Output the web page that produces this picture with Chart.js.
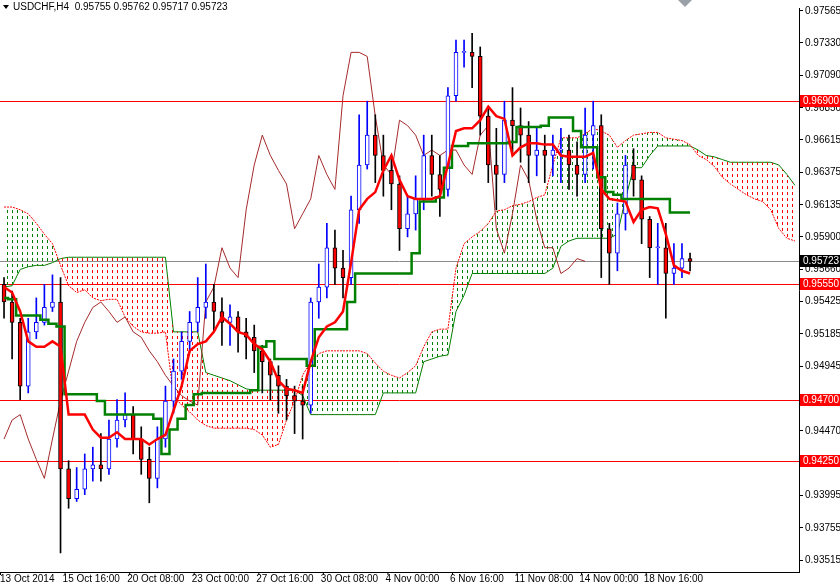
<!DOCTYPE html>
<html><head><meta charset="utf-8">
<script src="https://cdn.jsdelivr.net/npm/chart.js@4"></script>
<style>html,body{margin:0;padding:0;background:#fff;overflow:hidden}</style>
</head><body><canvas id="c" width="840" height="585" style="width:840px;height:585px;display:block"></canvas>
<script>
const symbolTitle = "USDCHF,H4  0.95755 0.95762 0.95717 0.95723";
const firstOpen = 0.9555;
const closes = [.9542,.9527,.9480,.9520,.9527,.9538,.9542,.9419,.9397,.9404,
.9419,.9422,.9419,.9441,.9455,.9459,.9441,.9426,.9412,.9441,
.9469,.9491,.9513,.9527,.9538,.9542,.9535,.9527,.9531,.9520,
.9516,.9506,.9498,.9488,.9480,.9473,.9469,.9466,.9542,.9553,
.9582,.9567,.9560,.9610,.9643,.9665,.9650,.9639,.9629,.9596,
.9607,.9618,.9650,.9636,.9625,.9694,.9726,.9726,.9723,.9679,
.9643,.9636,.9676,.9672,.9665,.9650,.9654,.9650,.9654,.9654,
.9643,.9636,.9665,.9672,.9596,.9578,.9607,.9643,.9632,.9603,
.9582,.9582,.9563,.9567,.9574,.9572];
const highs = [.9560,.9550,.9530,.9530,.9545,.9555,.9562,.9560,.9425,.9420,
.9430,.9435,.9445,.9455,.9470,.9475,.9465,.9450,.9435,.9450,
.9480,.9500,.9520,.9535,.9560,.9570,.9555,.9545,.9540,.9535,
.9530,.9525,.9510,.9500,.9495,.9485,.9480,.9480,.9545,.9570,
.9600,.9595,.9580,.9620,.9680,.9690,.9680,.9665,.9650,.9635,
.9620,.9635,.9665,.9665,.9650,.9700,.9735,.9735,.9740,.9730,
.9685,.9670,.9690,.9700,.9685,.9675,.9670,.9665,.9665,.9670,
.9665,.9660,.9685,.9690,.9680,.9600,.9615,.9650,.9655,.9635,
.9605,.9600,.9600,.9585,.9585,.9578];
const lows = [.9530,.9500,.9470,.9475,.9515,.9525,.9535,.9357,.9390,.9395,
.9400,.9410,.9410,.9415,.9435,.9450,.9430,.9415,.9394,.9405,
.9435,.9460,.9485,.9505,.9520,.9530,.9520,.9510,.9510,.9505,
.9500,.9490,.9475,.9470,.9460,.9455,.9445,.9441,.9460,.9530,
.9545,.9555,.9545,.9555,.9600,.9640,.9630,.9620,.9610,.9580,
.9590,.9595,.9610,.9620,.9605,.9620,.9690,.9715,.9700,.9665,
.9630,.9610,.9630,.9650,.9645,.9630,.9635,.9630,.9635,.9630,
.9625,.9620,.9630,.9640,.9560,.9555,.9565,.9595,.9620,.9585,
.9560,.9555,.9530,.9555,.9560,.9565];
const tenkan = [.9553,.9549,.9535,.9513,.9509,.9509,.9513,.9509,.9459,.9459,
.9459,.9448,.9442,.9442,.9446,.9441,.9441,.9441,.9437,.9441,
.9444,.9462,.9480,.9506,.9511,.9513,.9520,.9531,.9526,.9520,
.9518,.9511,.9507,.9498,.9484,.9478,.9477,.9475,.9498,.9516,
.9524,.9527,.9535,.9571,.9610,.9618,.9623,.9639,.9650,.9632,
.9620,.9618,.9618,.9618,.9620,.9643,.9668,.9670,.9670,.9676,
.9686,.9679,.9677,.9650,.9656,.9659,.9659,.9658,.9658,.9650,
.9649,.9649,.9649,.9652,.9625,.9618,.9617,.9616,.9601,.9610,
.9612,.9611,.9592,.9569,.9565,.9563];
const kijun = [.9545,.9544,.9532,.9532,.9532,.9529,.9526,.9524,.9474,.9474,
.9474,.9474,.9469,.9459,.9459,.9459,.9459,.9459,.9459,.9456,
.9430,.9448,.9456,.9466,.9474,.9475,.9475,.9475,.9475,.9475,
.9475,.9477,.9509,.9513,.9500,.9500,.9500,.9500,.9495,.9522,
.9522,.9522,.9522,.9542,.9563,.9563,.9563,.9563,.9563,.9563,
.9563,.9578,.9616,.9616,.9619,.9641,.9657,.9657,.9659,.9659,
.9659,.9659,.9659,.9660,.9671,.9671,.9671,.9672,.9678,.9678,
.9678,.9668,.9656,.9656,.9634,.9623,.9621,.9618,.9618,.9618,
.9618,.9618,.9618,.9608,.9608,.9608];
const spanA = [.9612,.9612,.9610,.9607,.9600,.9592,.9585,.9569,.9554,.9549,
.9551,.9545,.9543,.9544,.9544,.9531,.9524,.9520,.9519,.9519,
.9520,.9473,.9466,.9461,.9455,.9451,.9449,.9449,.9449,.9449,
.9449,.9448,.9444,.9435,.9437,.9455,.9469,.9488,.9498,.9504,
.9506,.9506,.9506,.9506,.9506,.9504,.9497,.9491,.9488,.9486,
.9490,.9495,.9509,.9520,.9522,.9522,.9567,.9585,.9590,.9594,
.9600,.9609,.9610,.9613,.9614,.9616,.9619,.9621,.9643,.9663,
.9663,.9663,.9666,.9670,.9668,.9665,.9656,.9661,.9665,.9666,
.9667,.9667,.9663,.9662,.9661,.9658,.9650,.9647,.9642,.9634,
.9629,.9625,.9621,.9618,.9616,.9610,.9596,.9589,.9587];
const spanB = [.9553,.9554,.9566,.9568,.9569,.9569,.9571,.9574,.9575,.9575,
.9575,.9575,.9575,.9575,.9575,.9575,.9575,.9575,.9575,.9575,
.9575,.9520,.9520,.9520,.9520,.9490,.9488,.9486,.9484,.9481,
.9478,.9477,.9477,.9477,.9477,.9477,.9477,.9473,.9459,.9459,
.9459,.9459,.9459,.9459,.9459,.9459,.9459,.9475,.9475,.9475,
.9475,.9475,.9498,.9500,.9502,.9503,.9535,.9547,.9563,.9563,
.9563,.9563,.9563,.9563,.9563,.9563,.9563,.9563,.9567,.9583,
.9587,.9589,.9589,.9589,.9589,.9589,.9592,.9618,.9641,.9641,
.9650,.9657,.9657,.9657,.9657,.9657,.9654,.9650,.9649,.9647,
.9645,.9645,.9645,.9645,.9645,.9645,.9643,.9636,.9628];
const chikouShift = 13;
const levels = [0.96900, 0.95550, 0.94700, 0.94250];
const lastPrice = 0.95723;
const yTicks = [0.97565,0.97330,0.97090,0.96850,0.96615,0.96375,0.96135,0.95900,0.95660,0.95425,0.95185,0.94945,0.94470,0.93995,0.93755,0.93515];
const dateLabels = ["13 Oct 2014","15 Oct 16:00","20 Oct 08:00","23 Oct 00:00","27 Oct 16:00","30 Oct 08:00","4 Nov 00:00","6 Nov 16:00","11 Nov 08:00","14 Nov 00:00","18 Nov 16:00"];
const dateSlots = [0,8,16,24,32,40,48,56,64,72,80];

const N = spanA.length;
const slots = Array.from({length:N},(_,i)=>i);
const opens = closes.map((c,i)=> i===0 ? firstOpen : closes[i-1]);
const bull = closes.map((c,i)=> c>=opens[i]);
const chikou = slots.map(i => (i+chikouShift < closes.length) ? closes[i+chikouShift] : null);

function pattern(color){
  const p=document.createElement('canvas'); p.width=5; p.height=6;
  const g=p.getContext('2d'); g.fillStyle=color; g.fillRect(2,0,1,3);
  return g.createPattern(p,'repeat');
}
const greenPat = pattern('#008000'), redPat = pattern('#ff0000');

const overlay = {
  id:'overlay',
  beforeDatasetsDraw(chart){
    const {ctx, chartArea:a, scales:{y}} = chart;
    ctx.save();
    ctx.lineWidth=1;
    levels.forEach(v=>{ const py=Math.round(y.getPixelForValue(v))+0.5;
      ctx.strokeStyle='#ff0000'; ctx.beginPath(); ctx.moveTo(a.left,py); ctx.lineTo(a.right,py); ctx.stroke();});
    const py=Math.round(y.getPixelForValue(lastPrice))+0.5;
    ctx.strokeStyle='#8c8c8c'; ctx.beginPath(); ctx.moveTo(a.left,py); ctx.lineTo(a.right,py); ctx.stroke();
    ctx.restore();
  },
  afterDraw(chart){
    const {ctx, chartArea:a, scales:{x,y}} = chart;
    ctx.save();
    ctx.font='10px "Liberation Sans", Arial, sans-serif';
    ctx.textBaseline='middle';
    const box=(v,bg)=>{ const py=Math.round(y.getPixelForValue(v));
      ctx.fillStyle=bg; ctx.fillRect(a.right+1,py-6,40,12);
      ctx.fillStyle='#fff'; ctx.textAlign='left'; ctx.fillText(v.toFixed(5),a.right+4,py);};
    levels.forEach(v=>box(v,'#ff0000'));
    box(lastPrice,'#000');
    ctx.fillStyle='#000'; ctx.textBaseline='top'; ctx.textAlign='left';
    ctx.strokeStyle='#000';
    dateLabels.forEach((t,k)=>{ const px=x.getPixelForValue(dateSlots[k])-4;
      ctx.beginPath(); ctx.moveTo(px+0.5,a.bottom); ctx.lineTo(px+0.5,a.bottom+3); ctx.stroke();
      ctx.fillText(t,Math.max(px-2,0),a.bottom+2);});
    ctx.textBaseline='middle';
    ctx.beginPath(); ctx.moveTo(3,5); ctx.lineTo(9,5); ctx.lineTo(6,9); ctx.closePath(); ctx.fill();
    ctx.fillText(symbolTitle,13,7);
    ctx.fillStyle='#9aa0a8';
    ctx.beginPath(); ctx.moveTo(678,0); ctx.lineTo(692,0); ctx.lineTo(685,7); ctx.closePath(); ctx.fill();
    ctx.restore();
  }
};

new Chart(document.getElementById('c'),{
  data:{
    labels:slots,
    datasets:[
      {type:'line',label:'SpanA',data:spanA,borderColor:'#ff0000',borderWidth:1,borderDash:[2,1],pointRadius:0,
       fill:{target:'+1',above:greenPat,below:redPat},order:10},
      {type:'line',label:'SpanB',data:spanB,borderColor:'#008000',borderWidth:1,pointRadius:0,fill:false,order:10},
      {type:'line',label:'Chikou',data:chikou,borderColor:'#a52a2a',borderWidth:1,pointRadius:0,fill:false,order:9},
      {type:'bar',label:'wick',data:closes.map((c,i)=>[lows[i],highs[i]]),backgroundColor:bull.map(b=>b?'#0000ff':'#000'),barThickness:1,order:5,grouped:false},
      {type:'bar',label:'body',data:closes.map((c,i)=>[opens[i],c]),backgroundColor:bull.map(b=>b?'#fff':'#ff0000'),borderColor:bull.map(b=>b?'#0000ff':'#000'),borderWidth:1,borderSkipped:false,barThickness:4,minBarLength:1,order:4,grouped:false},
      {type:'line',label:'Kijun',data:kijun,borderColor:'#008000',borderWidth:2.5,pointRadius:0,fill:false,order:1,stepped:'middle'},
      {type:'line',label:'Tenkan',data:tenkan,borderColor:'#ff0000',borderWidth:2.5,pointRadius:0,fill:false,order:0}
    ]
  },
  options:{
    responsive:false, animation:false, maintainAspectRatio:false, devicePixelRatio:1,
    layout:{padding:0},
    plugins:{legend:{display:false},tooltip:{enabled:false},filler:{propagate:false}},
    scales:{
      x:{type:'category',offset:true,grid:{display:false},border:{display:true,color:'#000'},ticks:{display:false},
         afterFit(s){s.height=13;}},
      y:{position:'right',min:0.93430,max:0.97587,
         afterBuildTicks(s){s.ticks=yTicks.map(v=>({value:v}));},
         afterFit(s){s.width=41;},
         grid:{drawOnChartArea:false,drawTicks:true,tickLength:4,color:'#000'},
         border:{display:true,color:'#000'},
         ticks:{padding:2,color:'#000',font:{family:'"Liberation Sans", Arial',size:10},callback:v=>Number(v).toFixed(5)}}
    }
  },
  plugins:[overlay]
});
</script></body></html>
